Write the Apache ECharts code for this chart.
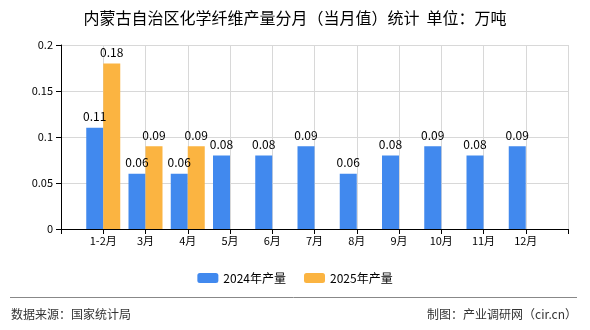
<!DOCTYPE html>
<html><head><meta charset="utf-8">
<script src="https://cdn.jsdelivr.net/npm/echarts@6/dist/echarts.min.js"></script>
<style>html,body{margin:0;padding:0;background:#fff}#c{width:590px;height:330px}</style>
</head><body><div id="c"></div>
<script>
const categories = ['1-2月','3月','4月','5月','6月','7月','8月','9月','10月','11月','12月'];
const values2024 = [0.11,0.06,0.06,0.08,0.08,0.09,0.06,0.08,0.09,0.08,0.09];
const values2025 = [0.18,0.09,0.09,null,null,null,null,null,null,null,null];
const seriesNames = ['2024年产量','2025年产量'];
const yTicks = [0,0.05,0.1,0.15,0.2];
const titleText = '内蒙古自治区化学纤维产量分月（当月值）统计  单位：万吨';
const sourceText = '数据来源：国家统计局';
const makerText = '制图：产业调研网（cir.cn）';

// pad one empty slot at each end so the groups sit on the ticks
const axisData = [''].concat(categories, ['']);
const pad = arr => [null].concat(arr, [null]);

const font = '"Noto Sans CJK SC", "Noto Sans", sans-serif';
const chart = echarts.init(document.getElementById('c'));
chart.setOption({
  animation: false,
  textStyle: {fontFamily: font},
  title: {text: titleText, left: 'center', top: 5, textStyle: {fontSize: 16, fontWeight: 'normal', color: '#000', fontFamily: font}},
  legend: {top: 267, left: 'center', itemWidth: 21, itemHeight: 10, itemGap: 18, textStyle: {fontSize: 12, color: '#000'}, data: seriesNames},
  grid: {left: 61, right: 22, top: 45, bottom: 101},
  xAxis: {
    type: 'category', data: axisData, boundaryGap: false,
    axisLine: {lineStyle: {color: '#000'}},
    axisTick: {show: true, interval: 0, lineStyle: {color: '#000'}},
    axisLabel: {color: '#000', fontSize: 11, margin: 6, interval: 0},
    splitLine: {show: true, interval: 0, lineStyle: {color: '#d8d8d8'}}
  },
  yAxis: {
    type: 'value', min: yTicks[0], max: yTicks[yTicks.length - 1], interval: 0.05,
    axisLine: {show: true, lineStyle: {color: '#000'}},
    axisTick: {show: true, lineStyle: {color: '#000'}},
    axisLabel: {color: '#000', fontSize: 11, formatter: v => String(+v.toFixed(2))},
    splitLine: {lineStyle: {color: '#d8d8d8'}}
  },
  series: [
    {name: seriesNames[0], type: 'bar', data: pad(values2024), barWidth: 17, barGap: '0%', itemStyle: {color: '#4189EE'},
     label: {show: true, position: 'top', color: '#000', fontSize: 12, distance: 5}},
    {name: seriesNames[1], type: 'bar', data: pad(values2025), barWidth: 17, barGap: '0%', itemStyle: {color: '#FBB441'},
     label: {show: true, position: 'top', color: '#000', fontSize: 12, distance: 5}}
  ],
  graphic: [
    {type: 'line', shape: {x1: 10, y1: 297.5, x2: 577, y2: 297.5}, style: {stroke: '#888', lineWidth: 1}},
    {type: 'text', left: 11, top: 308, style: {text: sourceText, fontSize: 12, fill: '#333', fontFamily: font}},
    {type: 'text', right: 13, top: 308, style: {text: makerText, fontSize: 12, fill: '#333', fontFamily: font}}
  ]
});
</script></body></html>
